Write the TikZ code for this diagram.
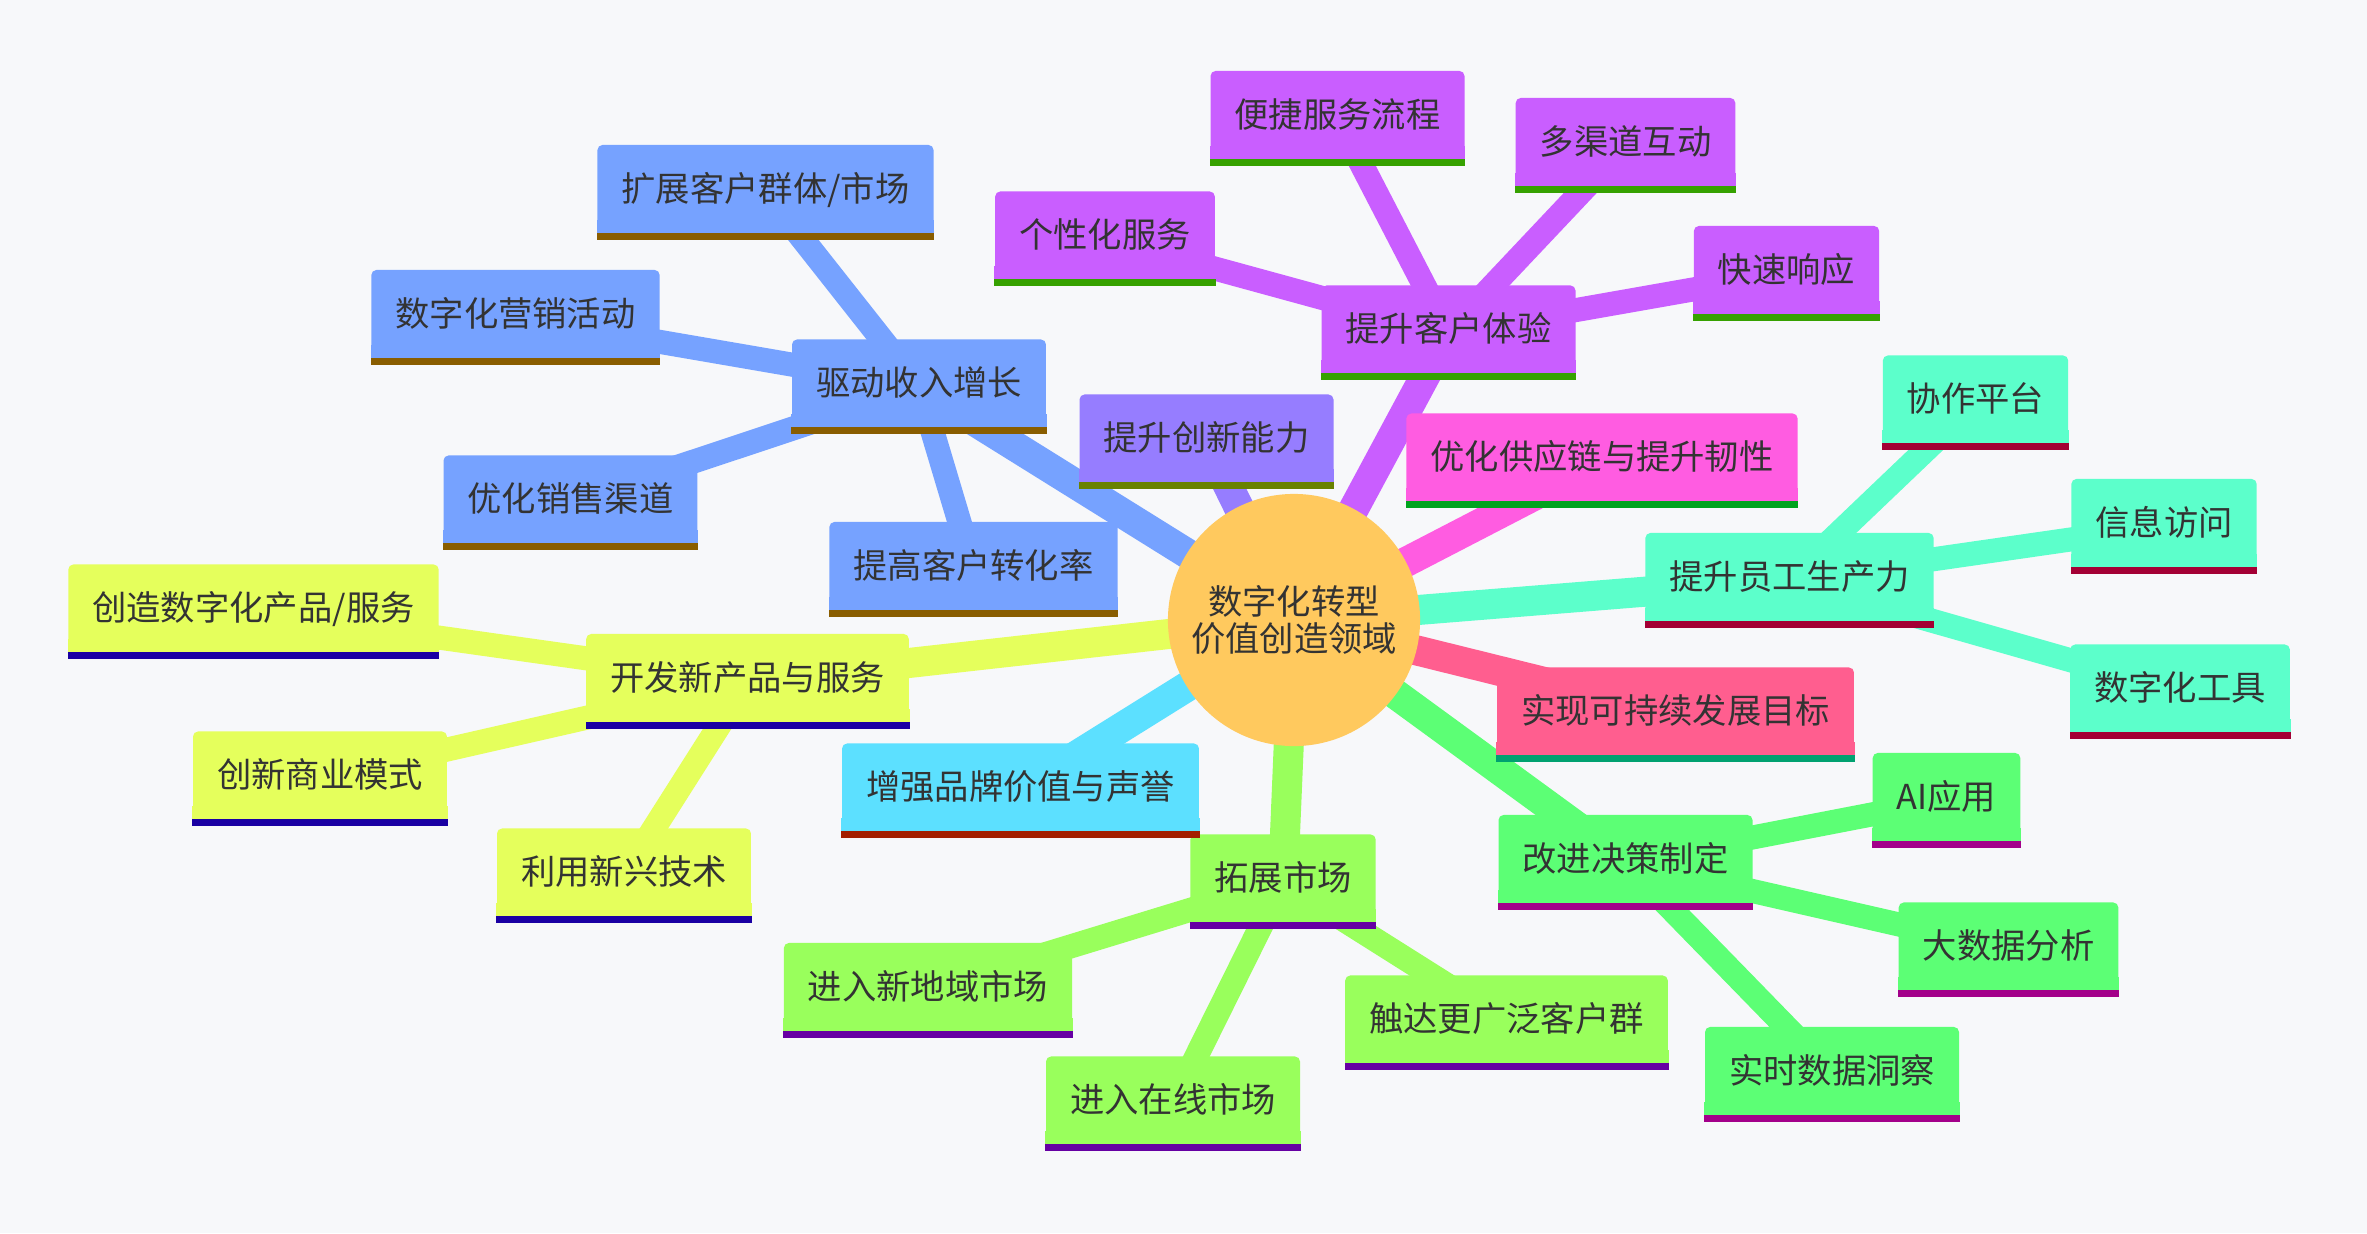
\documentclass[tikz,border=0pt]{standalone}
\usepackage{fontspec}
\newfontfamily\cjk{Noto Sans CJK SC}
\pgfdeclarelayer{edges}
\pgfdeclarelayer{bars}
\pgfsetlayers{edges,main,bars}
\definecolor{bgcol}{HTML}{F7F8FA}
\definecolor{inkcol}{HTML}{333333}
\definecolor{rootfill}{HTML}{FFC95E}
\definecolor{revfill}{HTML}{76A2FF}
\definecolor{innfill}{HTML}{967DFF}
\definecolor{cxfill}{HTML}{C95EFF}
\definecolor{supfill}{HTML}{FF5CE1}
\definecolor{stafill}{HTML}{5CFFCB}
\definecolor{susfill}{HTML}{FF5E8F}
\definecolor{decfill}{HTML}{5CFF75}
\definecolor{mktfill}{HTML}{99FF5C}
\definecolor{brafill}{HTML}{5CE0FF}
\definecolor{prdfill}{HTML}{E5FF5C}
\colorlet{revbar}{-revfill}
\colorlet{innbar}{-innfill}
\colorlet{cxbar}{-cxfill}
\colorlet{supbar}{-supfill}
\colorlet{stabar}{-stafill}
\colorlet{susbar}{-susfill}
\colorlet{decbar}{-decfill}
\colorlet{mktbar}{-mktfill}
\colorlet{brabar}{-brafill}
\colorlet{prdbar}{-prdfill}

\begin{document}
\begin{tikzpicture}[
  x=0.01cm, y=-0.01cm,
  font=\cjk\fontsize{9.76pt}{10.3pt}\selectfont, text=inkcol,
  topic/.style={fill=#1fill, rounded corners=0.05cm, inner xsep=0.24cm,
                inner ysep=0pt, text height=0.56cm, text depth=0.38cm,
                append after command={\pgfextra{
                  \begin{pgfonlayer}{bars}
                  \fill[#1fill, sharp corners] (\tikzlastnode.south west)
                    rectangle ([yshift=0.2cm]\tikzlastnode.south east);
                  \fill[#1bar, sharp corners] (\tikzlastnode.south west)
                    rectangle ([yshift=0.07cm]\tikzlastnode.south east);
                  \end{pgfonlayer}}}},
  root/.style={circle, fill=rootfill, minimum size=2.52cm, inner sep=0pt,
               align=center},
  trunk/.style={line width=0.30cm, draw=#1fill},
  twig/.style ={line width=0.24cm, draw=#1fill},
]

\useasboundingbox (0,0) rectangle (2367,1233);

\node[root] (root) at (1294,620) {数字化转型\\价值创造领域};

% revenue
\node[topic=rev] (revenue) at (919,386.5)   {驱动收入增长};
\node[topic=rev] (expand)  at (765.5,192)   {扩展客户群体/市场};
\node[topic=rev] (mktg)    at (515.5,317)   {数字化营销活动};
\node[topic=rev] (channel) at (570.5,502.5) {优化销售渠道};
\node[topic=rev] (convert) at (973.5,569)   {提高客户转化率};

\node[topic=inn] (innov) at (1206.5,441.5) {提升创新能力};

% customer experience
\node[topic=cx] (cx)       at (1448.5,332.5) {提升客户体验};
\node[topic=cx] (process)  at (1337.5,118)   {便捷服务流程};
\node[topic=cx] (personal) at (1105,238.5)   {个性化服务};
\node[topic=cx] (omni)     at (1625.5,145)   {多渠道互动};
\node[topic=cx] (quick)    at (1786.5,273)   {快速响应};

\node[topic=sup] (supply) at (1602,460.5) {优化供应链与提升韧性};

% staff
\node[topic=sta] (staff)  at (1789.5,580) {提升员工生产力};
\node[topic=sta] (collab) at (1975.5,402.5) {协作平台};
\node[topic=sta] (access) at (2164,526)   {信息访问};
\node[topic=sta] (tools)  at (2180,691.5) {数字化工具};

\node[topic=sus] (sustain) at (1675.5,714.5) {实现可持续发展目标};

% decisions
\node[topic=dec] (decide)  at (1625.5,862)  {改进决策制定};
\node[topic=dec] (aiuse)   at (1946.5,800)  {AI应用};
\node[topic=dec] (bigdata) at (2008.5,949.5) {大数据分析};
\node[topic=dec] (insight) at (1832,1074)   {实时数据洞察};

% market
\node[topic=mkt] (market) at (1283,881.5)   {拓展市场};
\node[topic=mkt] (region) at (928,990)      {进入新地域市场};
\node[topic=mkt] (reach)  at (1506.5,1022.5) {触达更广泛客户群};
\node[topic=mkt] (online) at (1173,1103.5)  {进入在线市场};

\node[topic=bra] (brand) at (1020.5,790.5) {增强品牌价值与声誉};

% products
\node[topic=prd] (newprod)  at (747.5,681)   {开发新产品与服务};
\node[topic=prd] (digprod)  at (253.5,611.5) {创造数字化产品/服务};
\node[topic=prd] (bizmodel) at (320,778.5)   {创新商业模式};
\node[topic=prd] (emerging) at (624,875.5)   {利用新兴技术};

\begin{pgfonlayer}{edges}
  \fill[bgcol] (0,0) rectangle (2367,1233);
  \draw[trunk=rev] (root.center) -- (revenue.center);
  \draw[trunk=inn] (root.center) -- (innov.center);
  \draw[trunk=cx]  (root.center) -- (cx.center);
  \draw[trunk=sup] (root.center) -- (supply.center);
  \draw[trunk=sta] (root.center) -- (staff.center);
  \draw[trunk=sus] (root.center) -- (sustain.center);
  \draw[trunk=dec] (root.center) -- (decide.center);
  \draw[trunk=mkt] (root.center) -- (market.center);
  \draw[trunk=bra] (root.center) -- (brand.center);
  \draw[trunk=prd] (root.center) -- (newprod.center);

  \draw[twig=rev] (revenue.center) -- (expand.center);
  \draw[twig=rev] (revenue.center) -- (mktg.center);
  \draw[twig=rev] (revenue.center) -- (channel.center);
  \draw[twig=rev] (revenue.center) -- (convert.center);
  \draw[twig=cx] (cx.center) -- (process.center);
  \draw[twig=cx] (cx.center) -- (personal.center);
  \draw[twig=cx] (cx.center) -- (omni.center);
  \draw[twig=cx] (cx.center) -- (quick.center);
  \draw[twig=sta] (staff.center) -- (collab.center);
  \draw[twig=sta] (staff.center) -- (access.center);
  \draw[twig=sta] (staff.center) -- (tools.center);
  \draw[twig=dec] (decide.center) -- (aiuse.center);
  \draw[twig=dec] (decide.center) -- (bigdata.center);
  \draw[twig=dec] (decide.center) -- (insight.center);
  \draw[twig=mkt] (market.center) -- (region.center);
  \draw[twig=mkt] (market.center) -- (reach.center);
  \draw[twig=mkt] (market.center) -- (online.center);
  \draw[twig=prd] (newprod.center) -- (digprod.center);
  \draw[twig=prd] (newprod.center) -- (bizmodel.center);
  \draw[twig=prd] (newprod.center) -- (emerging.center);
\end{pgfonlayer}

\end{tikzpicture}
\end{document}
